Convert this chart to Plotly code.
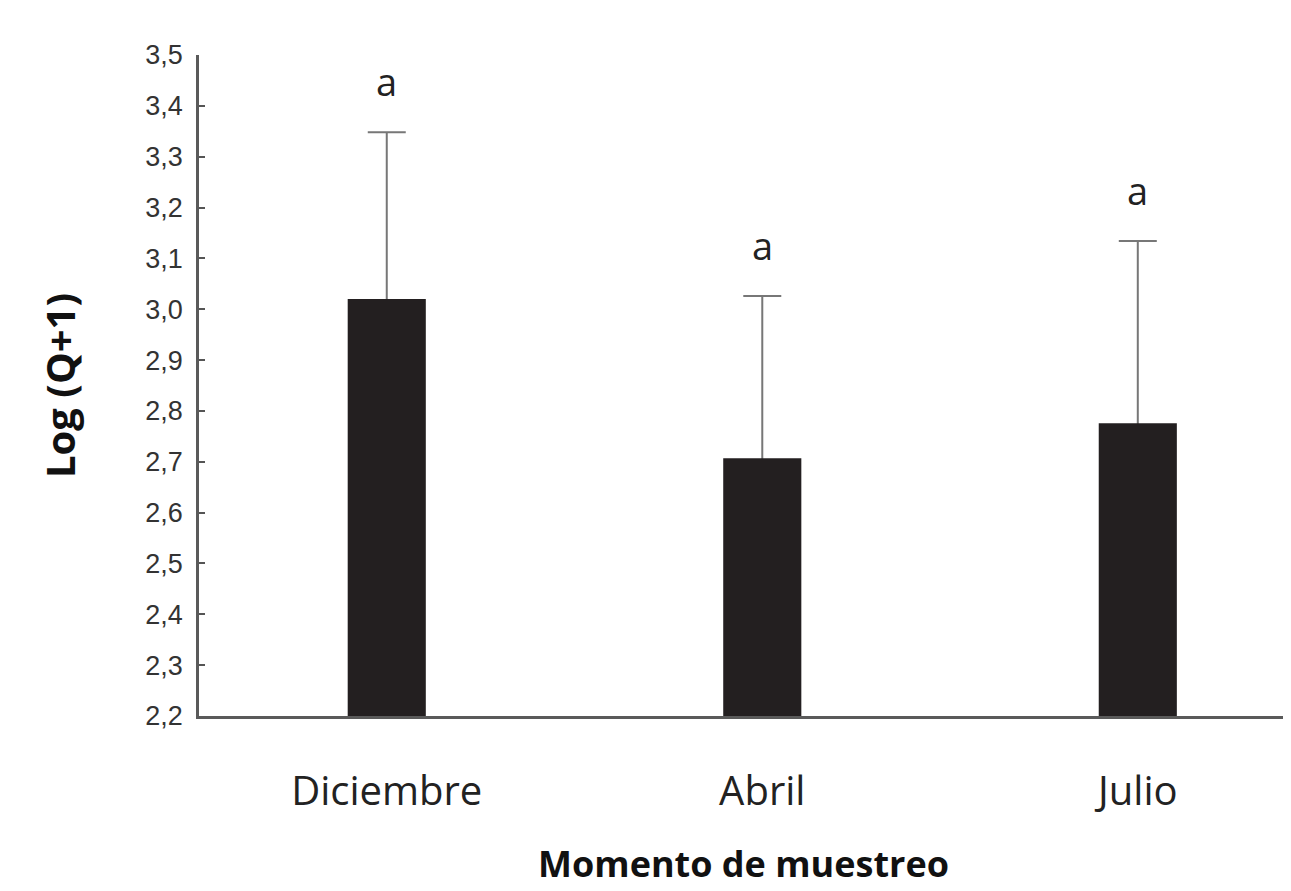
import plotly.graph_objects as go

categories = ["Diciembre", "Abril", "Julio"]
means = [3.020, 2.707, 2.776]
errors = [0.328, 0.319, 0.358]
letters = ["a", "a", "a"]
y_ticks = [2.2, 2.3, 2.4, 2.5, 2.6, 2.7, 2.8, 2.9, 3.0, 3.1, 3.2, 3.3, 3.4, 3.5]
y_tick_labels = [f"{v:.1f}".replace(".", ",") for v in y_ticks]
base_value = 2.2
y_range = [2.2, 3.5]
hidden_lower = 0.02  # lower whisker end stays hidden inside the bar

fig = go.Figure()
# error whiskers on the base y axis (drawn underneath)
fig.add_trace(go.Scatter(
    x=categories, y=means, mode="markers",
    marker=dict(size=1, opacity=0),
    error_y=dict(type="data", symmetric=False, array=errors,
                 arrayminus=[hidden_lower] * len(errors),
                 color="#777777", thickness=2, width=19),
    hoverinfo="skip", yaxis="y",
))
# bars on an overlaying axis, so they cover the lower end of the whiskers
fig.add_trace(go.Bar(
    x=categories, y=[m - base_value for m in means], base=base_value,
    width=0.208,
    marker=dict(color="#231f20", line=dict(width=0)),
    yaxis="y2",
))

for c, m, e, l in zip(categories, means, errors, letters):
    fig.add_annotation(x=c, y=m + e + 0.1, text=l, showarrow=False,
                       font=dict(family="Open Sans", size=38, color="#222222"),
                       yanchor="middle")

fig.update_layout(
    width=1283, height=883,
    margin=dict(l=191, r=3, t=47, b=175),
    paper_bgcolor="white", plot_bgcolor="white",
    showlegend=False,
    xaxis=dict(
        range=[-0.5, 2.4], showgrid=False, zeroline=False, automargin=False,
        showline=True, linecolor="#5a5a5a", linewidth=2.5,
        ticks="", ticklabelstandoff=38,
        tickfont=dict(family="Open Sans", size=40, color="#222222"),
        title=dict(text="<b>Momento de muestreo</b>", standoff=37,
                   font=dict(family="Open Sans", size=36, color="#111111")),
    ),
    yaxis=dict(
        range=y_range, showgrid=False, zeroline=False, automargin=False,
        showline=True, linecolor="#5a5a5a", linewidth=2.5,
        tickmode="array", tickvals=y_ticks, ticktext=y_tick_labels,
        ticks="inside", ticklen=6, tickwidth=2, tickcolor="#555555",
        ticklabelstandoff=8,
        tickfont=dict(family="Liberation Sans", size=27, color="#333333"),
        title=dict(text="<b>Log (Q+1)</b>", standoff=58,
                   font=dict(family="Open Sans", size=40, color="#111111")),
    ),
    yaxis2=dict(
        range=y_range, overlaying="y", side="left", visible=False,
        showgrid=False, zeroline=False, automargin=False,
    ),
)

fig.write_html("out.html")
